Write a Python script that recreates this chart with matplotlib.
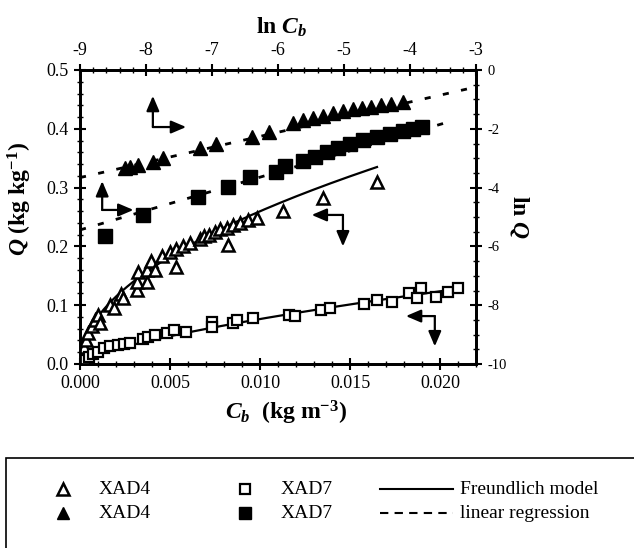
import numpy as np
import matplotlib
matplotlib.use('Agg')
import matplotlib.pyplot as plt
from matplotlib.lines import Line2D
from matplotlib.patches import Rectangle, FancyArrowPatch
from matplotlib.ticker import MultipleLocator, FormatStrFormatter

plt.rcParams['font.family'] = ['Liberation Serif', 'DejaVu Serif']
plt.rcParams['mathtext.fontset'] = 'custom'
plt.rcParams['mathtext.rm'] = 'Liberation Serif:bold'
plt.rcParams['mathtext.it'] = 'Liberation Serif:italic:bold'
plt.rcParams['mathtext.bf'] = 'Liberation Serif:bold'
plt.rcParams['axes.unicode_minus'] = False

# ---------------- data ----------------
# XAD4, Q vs Cb (open triangles)
xad4_cb = [0.00006, 0.00011, 0.00022, 0.00033, 0.00044, 0.00067, 0.00083, 0.00100, 0.00111,
           0.00167, 0.00189, 0.00228, 0.00239, 0.00317, 0.00317, 0.00322, 0.00372, 0.00372,
           0.00394, 0.00417, 0.00456, 0.00500, 0.00533, 0.00533, 0.00572, 0.00611, 0.00667,
           0.00689, 0.00717, 0.00750, 0.00778, 0.00822, 0.00817, 0.00850, 0.00889, 0.00933,
           0.00983, 0.01128, 0.01350, 0.01650]
xad4_q = [0.007, 0.015, 0.029, 0.041, 0.053, 0.065, 0.075, 0.083, 0.070,
          0.100, 0.095, 0.119, 0.112, 0.126, 0.139, 0.156, 0.139, 0.160,
          0.175, 0.160, 0.184, 0.190, 0.165, 0.196, 0.201, 0.206, 0.213,
          0.218, 0.219, 0.224, 0.230, 0.202, 0.231, 0.236, 0.240, 0.245,
          0.248, 0.260, 0.282, 0.310]

# XAD7, Q vs Cb (open squares)
xad7_cb = [0.00011, 0.00028, 0.00050, 0.00072, 0.00100, 0.00133, 0.00167, 0.00211, 0.00244,
           0.00278, 0.00350, 0.00378, 0.00417, 0.00483, 0.00522, 0.00589, 0.00733, 0.00733,
           0.00850, 0.00872, 0.00961, 0.01161, 0.01194, 0.01339, 0.01389, 0.01578, 0.01650,
           0.01733, 0.01828, 0.01894, 0.01872, 0.01978, 0.02044, 0.02100]
xad7_q = [0.003, 0.007, 0.012, 0.017, 0.020, 0.027, 0.031, 0.032, 0.034,
          0.036, 0.043, 0.046, 0.049, 0.053, 0.058, 0.054, 0.071, 0.063,
          0.070, 0.075, 0.078, 0.083, 0.082, 0.092, 0.095, 0.102, 0.109,
          0.105, 0.121, 0.129, 0.112, 0.114, 0.122, 0.129]

# XAD4, ln Q vs ln Cb (filled triangles)
xad4_lncb = [-8.32, -8.24, -8.12, -7.89, -7.74, -7.18, -6.94, -6.39, -6.14, -5.77, -5.62,
             -5.47, -5.32, -5.17, -5.02, -4.86, -4.73, -4.59, -4.44, -4.29, -4.11]
xad4_lnq = [-3.33, -3.30, -3.23, -3.13, -2.99, -2.65, -2.52, -2.28, -2.11, -1.80, -1.70,
            -1.63, -1.56, -1.46, -1.39, -1.33, -1.29, -1.26, -1.19, -1.16, -1.09]

# XAD7, ln Q vs ln Cb (filled squares)
xad7_lncb = [-8.62, -8.05, -7.21, -6.76, -6.42, -6.03, -5.89, -5.62, -5.44, -5.26, -5.09,
             -4.91, -4.71, -4.50, -4.30, -4.11, -3.95, -3.82]
xad7_lnq = [-5.65, -4.93, -4.32, -3.98, -3.64, -3.47, -3.27, -3.10, -2.96, -2.79, -2.65,
            -2.52, -2.38, -2.28, -2.18, -2.07, -2.01, -1.94]

# Freundlich model Q = K * Cb^n  (K, n, Cb_max)
freundlich_xad4 = (2.695, 0.508, 0.0165)
freundlich_xad7 = (1.86, 0.693, 0.0212)
# linear regression lnQ = a*lnCb + b  (a, b, lnCb_start, lnCb_end)
linreg_xad4 = (0.514, 0.966, -9.0, -3.0)
linreg_xad7 = (0.658, 0.482, -9.0, -3.32)

# ---------------- figure ----------------
fig = plt.figure(figsize=(6.34, 5.48), dpi=100)
pos = [80/634, 1-364/548, 396/634, 294/548]
ax = fig.add_axes(pos)
ax2 = fig.add_axes(pos, facecolor='none')

# main axes (bottom / left)
ax.set_xlim(0, 0.022)
ax.set_ylim(0, 0.5)
ax.xaxis.set_major_locator(MultipleLocator(0.005))
ax.xaxis.set_minor_locator(MultipleLocator(0.001))
ax.yaxis.set_major_locator(MultipleLocator(0.1))
ax.yaxis.set_minor_locator(MultipleLocator(0.02))
ax.xaxis.set_major_formatter(FormatStrFormatter('%.3f'))
ax.yaxis.set_major_formatter(FormatStrFormatter('%.1f'))
ax.tick_params(which='both', top=False, right=False, direction='inout')
ax.tick_params(which='major', length=8, width=1.5, labelsize=13, pad=4)
ax.tick_params(which='minor', length=4, width=1.0)

# secondary axes (top / right)
ax2.set_xlim(-9, -3)
ax2.set_ylim(-10, 0)
ax2.xaxis.tick_top()
ax2.yaxis.tick_right()
ax2.xaxis.set_label_position('top')
ax2.yaxis.set_label_position('right')
ax2.xaxis.set_major_locator(MultipleLocator(1))
ax2.xaxis.set_minor_locator(MultipleLocator(0.2))
ax2.yaxis.set_major_locator(MultipleLocator(2))
ax2.yaxis.set_minor_locator(MultipleLocator(0.5))
ax2.xaxis.set_major_formatter(FormatStrFormatter('%d'))
ax2.yaxis.set_major_formatter(FormatStrFormatter('%d'))
ax2.tick_params(which='both', bottom=False, left=False, direction='inout')
ax2.tick_params(which='major', length=8, width=1.5, pad=4)
ax2.tick_params(axis='x', which='major', labelsize=13)
ax2.tick_params(axis='y', which='major', labelsize=10.5)
ax2.tick_params(which='minor', length=4, width=1.0)

for a in (ax, ax2):
    for s in a.spines.values():
        s.set_linewidth(2.0)

# Freundlich curves
for K, n, cmax in (freundlich_xad4, freundlich_xad7):
    cc = np.linspace(0, cmax, 300)
    ax.plot(cc, K * cc**n, color='black', lw=1.6, zorder=2)

ax.plot(xad4_cb, xad4_q, linestyle='none', marker='^', ms=8, mfc='white', mec='black',
        mew=1.8, zorder=3)
ax.plot(xad7_cb, xad7_q, linestyle='none', marker='s', ms=7.5, mfc='white', mec='black',
        mew=1.6, zorder=3)

# linear regressions
for a_, b_, x0, x1 in (linreg_xad4, linreg_xad7):
    ll = np.linspace(x0, x1, 50)
    ax2.plot(ll, a_*ll + b_, color='black', lw=2.0, linestyle=(0, (2.2, 4.5)), zorder=2)

ax2.plot(xad4_lncb, xad4_lnq, linestyle='none', marker='^', ms=10.5, color='black', zorder=3)
ax2.plot(xad7_lncb, xad7_lnq, linestyle='none', marker='s', ms=9.5, color='black', zorder=3)

# labels
ax.set_xlabel(r'$C_b$  (kg m$^{-3}$)', fontsize=17, fontweight='bold')
ax.xaxis.set_label_coords(0.52, -0.12)
ax.set_ylabel(r'$Q$ (kg kg$^{-1}$)', fontsize=17, fontweight='bold')
ax.yaxis.set_label_coords(-0.115, 0.56)
ax2.set_xlabel(r'ln $C_b$', fontsize=17, fontweight='bold')
ax2.xaxis.set_label_coords(0.51, 1.125)
ax2.set_ylabel(r'ln $Q$', fontsize=17, fontweight='bold', rotation=270, va='center')
ax2.yaxis.set_label_coords(1.11, 0.50)

# L-shaped arrows indicating the axes for each data set
def L_arrow(corner, xend, yend):
    cx, cy = corner
    for tgt in ((xend, cy), (cx, yend)):
        ar = FancyArrowPatch((cx, cy), tgt, transform=ax.transAxes,
                             arrowstyle='-|>,head_length=0.75,head_width=0.32',
                             mutation_scale=12, lw=1.6, color='black',
                             shrinkA=0, shrinkB=0, zorder=5)
        ax.add_patch(ar)

L_arrow((0.184, 0.806), 0.268, 0.912)
L_arrow((0.056, 0.524), 0.135, 0.622)
L_arrow((0.664, 0.507), 0.585, 0.400)
L_arrow((0.896, 0.163), 0.823, 0.060)

# legend box (extends past figure edge as in the reference)
fig.patches.append(Rectangle((6/634, -0.2), 1.2, 0.2 + (1-458/548), transform=fig.transFigure,
                             fill=False, lw=1.2, edgecolor='black'))
r1, r2 = 1-489/548, 1-513/548
fs = 14
fig.lines.append(Line2D([63/634], [r1], transform=fig.transFigure, marker='^', ms=8,
                        mfc='white', mec='black', mew=1.8, linestyle='none'))
fig.lines.append(Line2D([63/634], [r2], transform=fig.transFigure, marker='^', ms=9,
                        color='black', linestyle='none'))
fig.lines.append(Line2D([245/634], [r1], transform=fig.transFigure, marker='s', ms=7.5,
                        mfc='white', mec='black', mew=1.6, linestyle='none'))
fig.lines.append(Line2D([245/634], [r2], transform=fig.transFigure, marker='s', ms=8,
                        color='black', linestyle='none'))
fig.lines.append(Line2D([380/634, 453/634], [r1, r1], transform=fig.transFigure,
                        color='black', lw=1.5))
fig.lines.append(Line2D([380/634, 453/634], [r2, r2], transform=fig.transFigure,
                        color='black', lw=1.5, linestyle=(0, (4, 3))))
fig.text(99/634, r1, 'XAD4', fontsize=fs, va='center')
fig.text(99/634, r2, 'XAD4', fontsize=fs, va='center')
fig.text(281/634, r1, 'XAD7', fontsize=fs, va='center')
fig.text(281/634, r2, 'XAD7', fontsize=fs, va='center')
fig.text(460/634, r1, 'Freundlich model', fontsize=fs, va='center')
fig.text(460/634, r2, 'linear regression', fontsize=fs, va='center')

fig.savefig('out.png', dpi=100)
